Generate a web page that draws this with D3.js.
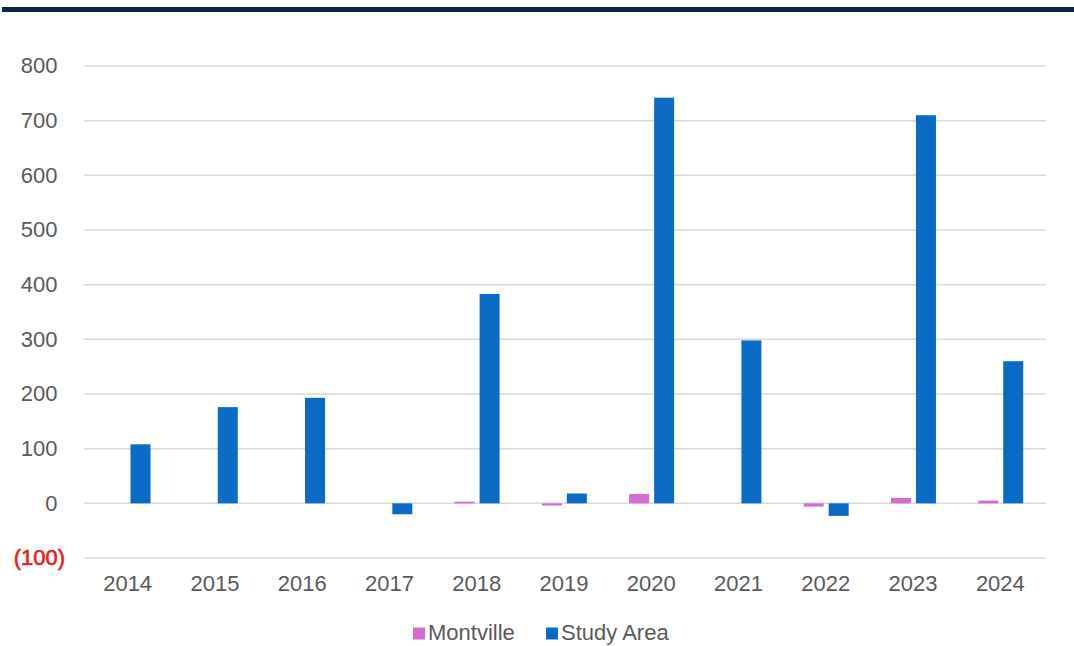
<!DOCTYPE html>
<html><head><meta charset="utf-8">
<script src="https://cdn.jsdelivr.net/npm/d3@7"></script>
<style>body{margin:0;background:#fff;}svg{display:block;font-family:"Liberation Sans",Arial,sans-serif;}</style>
</head><body>
<svg id="c" width="1074" height="646"></svg>
<script>
const years = ["2014","2015","2016","2017","2018","2019","2020","2021","2022","2023","2024"];
const montville = [0,0,0,0,3,-4,17,0,-6,10,5];
const studyArea = [108,176,193,-20,383,18,742,298,-23,710,260];
const seriesNames = ["Montville","Study Area"];
const seriesColors = ["#d46bd0","#0b6bc4"];
const yTicks = [-100,0,100,200,300,400,500,600,700,800];

const svg = d3.select("#c");
// top border
svg.append("rect").attr("x",2).attr("y",7).attr("width",1072).attr("height",5).attr("fill","#0e2542");

const x = d3.scaleBand().domain(years).range([85,1045]).paddingInner(0).paddingOuter(0);
const y = d3.scaleLinear().domain([-100,800]).range([558,66]);
const xs = d3.scaleBand().domain(seriesNames).range([20.5,65.5]).paddingInner(0.2).paddingOuter(0);

// gridlines
svg.append("g").selectAll("line").data(yTicks).join("line")
  .attr("x1",84).attr("x2",1046).attr("y1",d=>y(d)).attr("y2",d=>y(d))
  .attr("stroke","#d9d9d9").attr("stroke-width",1.5);

// y labels
svg.append("g").selectAll("text").data(yTicks).join("text")
  .attr("x",d=>d<0?65:57.5).attr("y",d=>y(d)).attr("dy","0.33em").attr("text-anchor","end")
  .attr("font-size",22)
  .attr("fill",d=>d<0?"#e3201b":"#595959")
  .attr("stroke",d=>d<0?"#e3201b":"none").attr("stroke-width",0.6)
  .text(d=>d<0?"("+Math.abs(d)+")":d);

// x labels
svg.append("g").selectAll("text").data(years).join("text")
  .attr("x",d=>x(d)+x.bandwidth()/2-1).attr("y",591).attr("text-anchor","middle")
  .attr("font-size",22).attr("fill","#595959").text(d=>d);

const data = [montville, studyArea];
data.forEach((vals,si)=>{
  svg.append("g").selectAll("rect").data(vals).join("rect")
    .attr("x",(d,i)=>x(years[i])+xs(seriesNames[si]))
    .attr("width",xs.bandwidth())
    .attr("y",d=>y(Math.max(0,d)))
    .attr("height",d=>Math.abs(y(d)-y(0)))
    .attr("fill",seriesColors[si]);
});

// legend
const leg = svg.append("g");
const legItems = [{n:"Montville",x:413},{n:"Study Area",x:546}];
legItems.forEach((it,i)=>{
  leg.append("rect").attr("x",it.x).attr("y",627.5).attr("width",12).attr("height",12).attr("fill",seriesColors[i]);
  leg.append("text").attr("x",it.x+15).attr("y",640).attr("font-size",22).attr("fill","#595959").text(it.n);
});
</script>
</body></html>
